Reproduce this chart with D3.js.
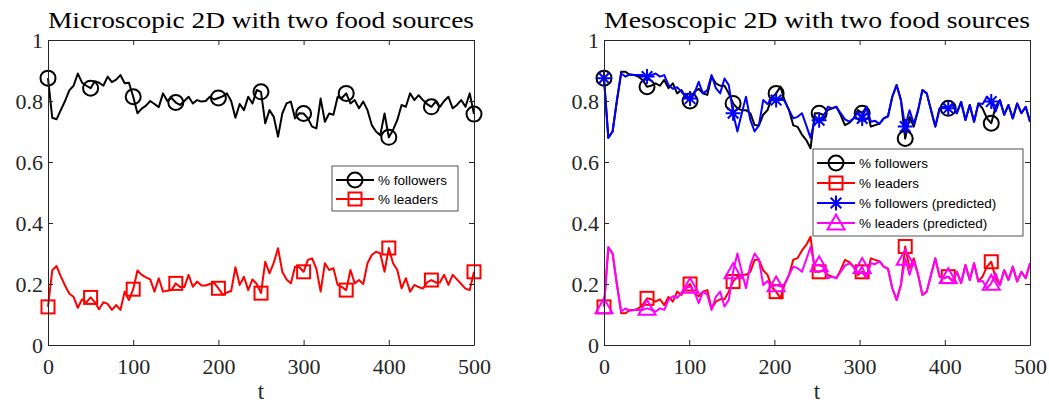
<!DOCTYPE html>
<html><head><meta charset="utf-8">
<script src="https://cdn.jsdelivr.net/npm/d3@7"></script>
<style>
body{margin:0;background:#fff}
.serif{font-family:"Liberation Serif","DejaVu Serif",serif}
.sans{font-family:"Liberation Sans",Arial,sans-serif}
</style>
</head><body>
<svg id="chart" width="1049" height="405"></svg>
<script>
// ---- data -------------------------------------------------------------
const xTicks = [0, 100, 200, 300, 400, 500];
const yTicks = [0, 0.2, 0.4, 0.6, 0.8, 1];
const yTickLabels = ["0", "0.2", "0.4", "0.6", "0.8", "1"];
const xLabel = "t";
const titles = ["Microscopic 2D with two food sources", "Mesoscopic 2D with two food sources"];

// microscopic run: sampled every 5 time units, t = 0..500
const microT = d3.range(0, 501, 5);
const microFollowers = [0.875,0.745,0.740,0.770,0.800,0.835,0.850,0.890,0.860,0.850,0.842,0.865,0.860,0.850,0.880,0.862,0.870,0.885,0.858,0.860,
  0.814,0.760,0.775,0.785,0.800,0.790,0.780,0.825,0.800,0.810,0.795,0.787,0.800,0.814,0.792,0.803,0.798,0.800,0.814,0.805,
  0.810,0.815,0.825,0.800,0.745,0.790,0.770,0.814,0.792,0.836,0.830,0.727,0.770,0.748,0.683,0.759,0.792,0.798,0.743,0.760,
  0.759,0.743,0.716,0.710,0.808,0.732,0.759,0.755,0.814,0.810,0.825,0.792,0.803,0.776,0.798,0.770,0.721,0.700,0.688,0.759,
  0.681,0.705,0.738,0.787,0.781,0.825,0.803,0.819,0.803,0.790,0.781,0.798,0.781,0.800,0.814,0.776,0.787,0.803,0.781,0.825,0.757];
const microLeaders = [0.125,0.245,0.259,0.225,0.195,0.168,0.158,0.122,0.150,0.140,0.156,0.140,0.117,0.140,0.135,0.115,0.131,0.115,0.175,0.147,
  0.183,0.244,0.230,0.222,0.215,0.175,0.219,0.175,0.178,0.180,0.202,0.190,0.190,0.230,0.191,0.208,0.195,0.195,0.200,0.204,
  0.186,0.165,0.172,0.177,0.255,0.197,0.224,0.180,0.215,0.200,0.170,0.273,0.235,0.270,0.317,0.240,0.215,0.202,0.257,0.255,
  0.240,0.279,0.284,0.250,0.175,0.268,0.246,0.252,0.197,0.190,0.180,0.246,0.202,0.213,0.200,0.268,0.295,0.306,0.300,0.240,
  0.318,0.268,0.246,0.186,0.219,0.175,0.197,0.190,0.185,0.205,0.213,0.205,0.205,0.230,0.197,0.230,0.215,0.200,0.185,0.180,0.240];

// mesoscopic run: 100 samples spread over t = 0..500
const mesoT = d3.range(100).map(i => i * 500 / 99);
const mesoFollowers = [0.875,0.680,0.700,0.800,0.896,0.896,0.885,0.885,0.880,0.869,0.847,0.850,0.858,0.850,0.869,0.842,0.858,0.825,0.836,0.814,
  0.800,0.830,0.840,0.825,0.820,0.880,0.858,0.850,0.850,0.825,0.792,0.776,0.770,0.770,0.760,0.721,0.720,0.755,0.770,0.810,
  0.825,0.847,0.800,0.770,0.720,0.715,0.690,0.672,0.645,0.760,0.760,0.754,0.770,0.776,0.781,0.754,0.721,0.728,0.743,0.770,
  0.760,0.781,0.716,0.721,0.725,0.743,0.750,0.814,0.852,0.803,0.677,0.748,0.716,0.770,0.836,0.825,0.770,0.716,0.776,0.781,
  0.776,0.790,0.760,0.797,0.738,0.787,0.732,0.792,0.775,0.743,0.727,0.781,0.803,0.755,0.787,0.743,0.792,0.760,0.781,0.732];
const mesoLeaders = [0.125,0.320,0.300,0.200,0.104,0.104,0.115,0.115,0.120,0.131,0.153,0.150,0.142,0.150,0.131,0.158,0.142,0.175,0.164,0.186,
  0.200,0.170,0.160,0.175,0.180,0.120,0.142,0.150,0.150,0.175,0.208,0.224,0.230,0.230,0.240,0.279,0.280,0.245,0.230,0.190,
  0.175,0.153,0.200,0.230,0.280,0.285,0.310,0.328,0.355,0.240,0.240,0.246,0.230,0.224,0.219,0.246,0.279,0.272,0.257,0.230,
  0.240,0.219,0.284,0.279,0.275,0.257,0.250,0.186,0.148,0.197,0.323,0.252,0.284,0.230,0.164,0.175,0.230,0.284,0.224,0.219,
  0.224,0.210,0.240,0.203,0.262,0.213,0.268,0.208,0.225,0.257,0.273,0.219,0.197,0.245,0.213,0.257,0.208,0.240,0.219,0.268];
const mesoFollowersPred = [0.875,0.679,0.700,0.803,0.890,0.880,0.888,0.885,0.885,0.885,0.880,0.885,0.890,0.880,0.885,0.852,0.840,0.845,0.830,0.814,
  0.808,0.825,0.863,0.825,0.835,0.885,0.842,0.825,0.874,0.852,0.760,0.700,0.759,0.814,0.738,0.700,0.720,0.803,0.790,0.810,
  0.803,0.808,0.800,0.770,0.743,0.748,0.760,0.720,0.679,0.740,0.737,0.745,0.781,0.776,0.781,0.760,0.740,0.732,0.743,0.765,
  0.743,0.781,0.732,0.735,0.725,0.743,0.750,0.814,0.852,0.803,0.716,0.770,0.725,0.770,0.836,0.825,0.770,0.716,0.776,0.781,
  0.776,0.790,0.760,0.797,0.738,0.787,0.732,0.792,0.790,0.814,0.798,0.765,0.803,0.755,0.787,0.743,0.792,0.760,0.781,0.732];
const mesoLeadersPred = [0.125,0.321,0.300,0.197,0.110,0.120,0.112,0.115,0.115,0.115,0.120,0.115,0.110,0.120,0.115,0.148,0.160,0.155,0.170,0.186,
  0.192,0.175,0.137,0.175,0.165,0.115,0.158,0.175,0.126,0.148,0.240,0.300,0.241,0.186,0.262,0.300,0.280,0.197,0.210,0.190,
  0.197,0.192,0.200,0.230,0.257,0.252,0.240,0.280,0.321,0.260,0.263,0.255,0.219,0.224,0.219,0.240,0.260,0.268,0.257,0.235,
  0.257,0.219,0.268,0.265,0.275,0.257,0.250,0.186,0.148,0.197,0.284,0.230,0.275,0.230,0.164,0.175,0.230,0.284,0.224,0.219,
  0.224,0.210,0.240,0.203,0.262,0.213,0.268,0.208,0.210,0.186,0.202,0.235,0.197,0.245,0.213,0.257,0.208,0.240,0.219,0.268];

// ---- drawing ----------------------------------------------------------
const svg = d3.select("#chart");
const AX = "#262626";

function marker(g, type, x, y, color) {
  const sw = 2;
  if (type === "circle") {
    g.append("circle").attr("cx", x).attr("cy", y).attr("r", 7.5)
      .attr("fill", "none").attr("stroke", color).attr("stroke-width", sw);
  } else if (type === "square") {
    g.append("rect").attr("x", x - 6.5).attr("y", y - 6.5).attr("width", 13).attr("height", 13)
      .attr("fill", "none").attr("stroke", color).attr("stroke-width", sw);
  } else if (type === "star") {
    const r = 7.5, d = r * Math.SQRT1_2;
    g.append("path").attr("d",
      `M${x - r},${y}H${x + r}M${x},${y - r}V${y + r}M${x - d},${y - d}L${x + d},${y + d}M${x - d},${y + d}L${x + d},${y - d}`)
      .attr("stroke", color).attr("stroke-width", sw).attr("fill", "none");
  } else if (type === "triangle") {
    const h = 8.5;
    g.append("path").attr("d", `M${x},${y - h}L${x + h},${y + h * 0.75}L${x - h},${y + h * 0.75}Z`)
      .attr("fill", "none").attr("stroke", color).attr("stroke-width", sw).attr("stroke-linejoin", "miter");
  }
}

function panel(opt) {
  const x = d3.scaleLinear().domain([0, 500]).range([opt.left, opt.right]);
  const y = d3.scaleLinear().domain([0, 1]).range([345, 40]);
  const g = svg.append("g");

  // series
  const line = d3.line().x(d => x(d[0])).y(d => y(d[1]));
  opt.series.forEach(s => {
    const pts = opt.t.map((t, i) => [t, s.values[i]]);
    g.append("path").datum(pts).attr("d", line)
      .attr("fill", "none").attr("stroke", s.color).attr("stroke-width", 2)
      .attr("stroke-linejoin", "round");
    const mg = g.append("g");
    pts.forEach((p, i) => { if (i % 10 === 0) marker(mg, s.marker, x(p[0]), y(p[1]), s.color); });
  });

  // axes box with inward ticks on all four sides
  const axB = d3.axisBottom(x).tickValues(xTicks).tickSize(-5).tickSizeOuter(0).tickFormat(d3.format("d"));
  const axT = d3.axisTop(x).tickValues(xTicks).tickSize(-5).tickSizeOuter(0).tickFormat("");
  const axL = d3.axisLeft(y).tickValues(yTicks).tickSize(-5).tickSizeOuter(0).tickFormat((d, i) => yTickLabels[i]);
  const axR = d3.axisRight(y).tickValues(yTicks).tickSize(-5).tickSizeOuter(0).tickFormat("");
  const gb = g.append("g").attr("transform", "translate(0,345)").call(axB);
  const gt = g.append("g").attr("transform", "translate(0,40)").call(axT);
  const gl = g.append("g").attr("transform", `translate(${opt.left},0)`).call(axL);
  const gr = g.append("g").attr("transform", `translate(${opt.right},0)`).call(axR);
  [gb, gt, gl, gr].forEach(a => {
    a.selectAll("path,line").attr("stroke", AX).attr("stroke-width", 1);
    a.selectAll("text").attr("class", "serif").attr("font-size", 22).attr("fill", AX);
  });
  gb.selectAll("text").attr("dy", null).attr("y", 29);
  gl.selectAll("text").attr("x", -5).attr("dy", "0.33em");

  g.append("text").attr("class", "serif").attr("x", (opt.left + opt.right) / 2).attr("y", 399)
    .attr("text-anchor", "middle").attr("font-size", 23).attr("fill", AX).text(xLabel);
  g.append("text").attr("class", "serif").attr("x", (opt.left + opt.right) / 2).attr("y", 28)
    .attr("text-anchor", "middle").attr("font-size", 24).attr("fill", "#000")
    .attr("textLength", opt.titleWidth).attr("lengthAdjust", "spacingAndGlyphs").text(opt.title);

  // legend
  const lg = g.append("g");
  const L = opt.legend;
  lg.append("rect").attr("x", L.x).attr("y", L.y).attr("width", L.w).attr("height", L.h)
    .attr("fill", "#fff").attr("stroke", AX).attr("stroke-width", 0.8);
  opt.series.forEach((s, i) => {
    const yy = L.y + L.first + i * L.step;
    lg.append("line").attr("x1", L.x + 4).attr("x2", L.x + 42).attr("y1", yy).attr("y2", yy)
      .attr("stroke", s.color).attr("stroke-width", 2);
    marker(lg, s.marker, L.x + 23, yy, s.color);
    lg.append("text").attr("class", "sans").attr("x", L.x + 46).attr("y", yy).attr("dy", "0.35em")
      .attr("font-size", 13.5).attr("fill", "#000").text(s.name);
  });
}

panel({
  left: 48, right: 474, title: titles[0], titleWidth: 426, t: microT,
  series: [
    { name: "% followers", values: microFollowers, color: "#000000", marker: "circle" },
    { name: "% leaders", values: microLeaders, color: "#ff0000", marker: "square" }
  ],
  legend: { x: 332, y: 166, w: 126, h: 45, first: 14, step: 19 }
});

panel({
  left: 604, right: 1030, title: titles[1], titleWidth: 426, t: mesoT,
  series: [
    { name: "% followers", values: mesoFollowers, color: "#000000", marker: "circle" },
    { name: "% leaders", values: mesoLeaders, color: "#ff0000", marker: "square" },
    { name: "% followers (predicted)", values: mesoFollowersPred, color: "#0000ff", marker: "star" },
    { name: "% leaders (predicted)", values: mesoLeadersPred, color: "#ff00ff", marker: "triangle" }
  ],
  legend: { x: 813, y: 149, w: 210, h: 87, first: 14, step: 20 }
});
</script>
</body></html>
